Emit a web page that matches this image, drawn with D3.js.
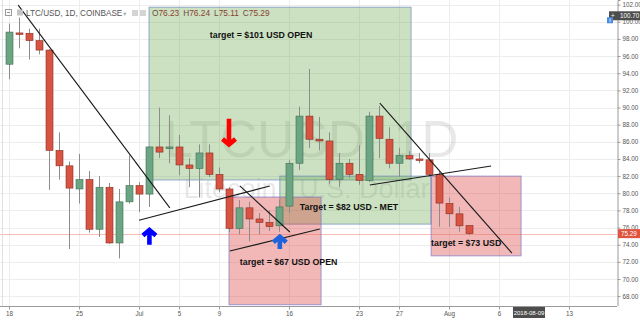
<!DOCTYPE html>
<html>
<head>
<meta charset="utf-8">
<script src="https://cdn.jsdelivr.net/npm/d3@7/dist/d3.min.js"></script>
<style>
  body { margin: 0; background: #fff; }
  #wrapper { width: 640px; height: 320px; overflow: hidden; }
  text { font-family: "Liberation Sans", Arial, sans-serif; }
</style>
</head>
<body>
<div id="wrapper"></div>
<script>
// daily candles LTC/USD
const dates = ["2018-06-18","2018-06-19","2018-06-20","2018-06-21","2018-06-22","2018-06-23","2018-06-24",
  "2018-06-25","2018-06-26","2018-06-27","2018-06-28","2018-06-29","2018-06-30","2018-07-01",
  "2018-07-02","2018-07-03","2018-07-04","2018-07-05","2018-07-06","2018-07-07","2018-07-08",
  "2018-07-09","2018-07-10","2018-07-11","2018-07-12","2018-07-13","2018-07-14","2018-07-15",
  "2018-07-16","2018-07-17","2018-07-18","2018-07-19","2018-07-20","2018-07-21","2018-07-22",
  "2018-07-23","2018-07-24","2018-07-25","2018-07-26","2018-07-27","2018-07-28","2018-07-29",
  "2018-07-30","2018-07-31","2018-08-01","2018-08-02","2018-08-03"];
const open = [95.05, 98.7, 98.66, 97.8, 96.7, 85.0, 83.2, 80.5, 81.6, 75.8, 80.7, 74.2, 79.0, 80.9,
  79.9, 85.4, 85.2, 85.4, 83.3, 82.9, 84.7, 82.2, 80.5, 75.9, 78.3, 77.0, 76.6, 76.2, 78.5, 83.5,
  89.0, 86.3, 86.1, 81.6, 83.5, 82.2, 81.5, 89.0, 86.3, 83.5, 84.4, 84.0, 83.9, 82.2, 78.8, 77.6, 76.23];
const high = [99.8, 100.5, 99.2, 99.2, 96.8, 87.1, 83.7, 84.6, 82.6, 82.0, 81.2, 80.5, 84.4, 81.3,
  85.5, 90.0, 89.1, 86.8, 84.1, 85.7, 85.7, 83.0, 80.7, 79.2, 79.0, 77.7, 78.0, 79.2, 83.85, 90.1,
  94.5, 88.9, 87.1, 84.7, 84.0, 85.6, 89.5, 90.2, 87.7, 85.3, 84.9, 84.7, 84.7, 82.6, 79.5, 78.4, 76.24];
const low = [93.3, 96.9, 95.6, 96.2, 80.4, 81.6, 73.5, 78.8, 75.4, 74.9, 74.1, 72.4, 78.8, 77.8,
  78.4, 84.1, 83.5, 82.1, 80.7, 79.5, 81.9, 80.1, 75.5, 75.2, 74.4, 75.2, 75.6, 75.5, 77.7, 82.7,
  85.3, 85.0, 81.1, 80.7, 81.8, 81.0, 81.3, 84.1, 82.9, 81.9, 83.9, 83.5, 81.9, 76.1, 76.1, 75.5, 75.11];
const close = [98.8, 98.6, 97.8, 96.7, 85.0, 83.2, 80.6, 81.6, 75.8, 80.7, 74.2, 79.0, 80.9, 79.9,
  85.4, 84.8, 85.4, 83.3, 82.9, 84.7, 82.2, 80.5, 75.9, 78.3, 77.0, 76.6, 76.1, 78.4, 83.5, 89.0,
  86.3, 86.1, 81.6, 83.5, 82.2, 81.5, 89.0, 86.4, 83.5, 84.4, 84.0, 83.9, 82.2, 78.85, 77.6, 76.2, 75.29];

// axis ticks
const tickDates = ["2018-06-18","2018-06-25","2018-07-01","2018-07-05","2018-07-09","2018-07-16",
  "2018-07-23","2018-07-27","2018-08-01","2018-08-06","2018-08-13"];
const tickLabels = ["18","25","Jul","5","9","16","23","27","Aug","6","13"];
const priceTicks = [68, 70, 72, 74, 76, 78, 80, 82, 84, 86, 88, 90, 92, 94, 96, 98, 100, 102];
const lastPrice = 75.29;
const crossPrice = 100.70;
const crossDate = "2018-08-09";

// drawings (time, price)
const zones = [
  {from: "2018-07-02T00:00Z", to: "2018-07-28T05:00Z", top: 101.7, bottom: 81.55, kind: "up"},
  {from: "2018-07-15T02:00Z", to: "2018-07-30T05:00Z", top: 82.0, bottom: 76.4, kind: "up"},
  {from: "2018-07-10T00:00Z", to: "2018-07-19T05:00Z", top: 79.56, bottom: 67.0, kind: "down"},
  {from: "2018-07-30T05:00Z", to: "2018-08-08T05:00Z", top: 82.0, bottom: 72.7, kind: "down"}
];
const trendLines = [
  ["2018-06-18T22:00Z", 101.95, "2018-07-04T02:00Z", 78.3],
  ["2018-07-01T00:00Z", 76.86, "2018-07-14T02:00Z", 80.85],
  ["2018-07-11T02:00Z", 80.85, "2018-07-16T02:00Z", 75.48],
  ["2018-07-10T02:00Z", 73.26, "2018-07-19T02:00Z", 75.83],
  ["2018-07-24T02:00Z", 80.97, "2018-08-05T05:00Z", 83.18],
  ["2018-07-25T02:00Z", 90.52, "2018-08-07T07:00Z", 73.03]
];
const arrows = [
  {date: "2018-07-10T00:00Z", from: 88.7, to: 85.5, kind: "red"},
  {date: "2018-07-02T01:00Z", from: 74.0, to: 75.9, kind: "blue"},
  {date: "2018-07-15T02:00Z", from: 73.5, to: 75.1, kind: "blue2"}
];
const notes = [
  {date: "2018-07-08T02:00Z", price: 98.1, text: "target = $101 USD OPEN"},
  {date: "2018-07-17T02:00Z", price: 78.1, text: "Target = $82 USD - MET"},
  {date: "2018-07-11T02:00Z", price: 71.6, text: "target = $67 USD OPEN"},
  {date: "2018-07-30T05:00Z", price: 73.85, text: "target = $73 USD"}
];

function buildChart() {
    const width = 640, height = 320;
    const plot = {left: 0, right: 617, top: 0, bottom: 306};
    const DAY = 86400000;
    const t0 = new Date(dates[0]).getTime();

    const svg = d3.select("#wrapper").append("svg")
        .attr("width", width)
        .attr("height", height);

    const x = d3.scaleUtc()
        .domain([new Date(t0 - 0.9 * DAY), new Date(t0 + 60.8 * DAY)])
        .range([plot.left, plot.right]);
    const y = d3.scaleLinear()
        .domain([66.85, 102.54])
        .range([plot.bottom, plot.top]);

    const colors = {
        up: "#6ba583", upLine: "#3f6f52", down: "#d75442", downLine: "#8a2e22", wick: "#8c8c8c",
        grid: "#ededed", axis: "#9a9a9a", label: "#555"
    };
    const zoneFill = {up: "rgba(106,170,80,0.35)", down: "rgba(215,40,40,0.33)"};
    const zoneStroke = {up: "rgba(110,140,190,0.7)", down: "rgba(120,120,200,0.7)"};
    const arrowColor = {red: "#ff0000", blue: "#0000ff", blue2: "#1f63dc"};

    svg.append("defs").append("clipPath").attr("id", "plotclip")
        .append("rect")
        .attr("x", plot.left).attr("y", plot.top)
        .attr("width", plot.right - plot.left).attr("height", plot.bottom - plot.top);

    //grid
    const grid = svg.append("g");
    grid.selectAll("line.h")
        .data(priceTicks)
        .enter().append("line")
        .attr("x1", plot.left).attr("x2", plot.right)
        .attr("y1", (d) => Math.round(y(d)) + 0.5).attr("y2", (d) => Math.round(y(d)) + 0.5)
        .attr("stroke", colors.grid);
    grid.selectAll("line.v")
        .data(tickDates)
        .enter().append("line")
        .attr("x1", (d) => Math.round(x(new Date(d))) + 0.5).attr("x2", (d) => Math.round(x(new Date(d))) + 0.5)
        .attr("y1", plot.top).attr("y2", plot.bottom)
        .attr("stroke", colors.grid);

    //watermark
    const mid = (plot.left + plot.right) / 2;
    svg.append("text")
        .attr("x", mid + 3).attr("y", 157)
        .attr("text-anchor", "middle")
        .attr("font-size", 51)
        .attr("fill", "rgba(110,110,110,0.16)")
        .text("LTCUSD, 1D");
    svg.append("text")
        .attr("x", mid - 2).attr("y", 198)
        .attr("text-anchor", "middle")
        .attr("font-size", 27)
        .attr("fill", "rgba(110,110,110,0.16)")
        .text("Litecoin / U.S. Dollar");

    const inner = svg.append("g").attr("clip-path", "url(#plotclip)");

    //target boxes
    inner.selectAll("rect.zone")
        .data(zones)
        .enter().append("rect")
        .attr("x", (d) => x(new Date(d.from)))
        .attr("y", (d) => y(d.top))
        .attr("width", (d) => x(new Date(d.to)) - x(new Date(d.from)))
        .attr("height", (d) => y(d.bottom) - y(d.top))
        .attr("fill", (d) => zoneFill[d.kind])
        .attr("stroke", (d) => zoneStroke[d.kind])
        .attr("stroke-width", 1);

    //last price line
    inner.append("line")
        .attr("x1", plot.left).attr("x2", plot.right)
        .attr("y1", Math.round(y(lastPrice)) + 0.5).attr("y2", Math.round(y(lastPrice)) + 0.5)
        .attr("stroke", "rgba(235,110,90,0.45)");

    //candles
    const candles = dates.map((d, i) => ({date: new Date(d), o: open[i], h: high[i], l: low[i], c: close[i]}));
    const cg = inner.append("g");
    cg.selectAll("line")
        .data(candles)
        .enter().append("line")
        .attr("x1", (d) => Math.round(x(d.date)) + 0.5)
        .attr("x2", (d) => Math.round(x(d.date)) + 0.5)
        .attr("y1", (d) => y(d.h))
        .attr("y2", (d) => y(d.l))
        .attr("stroke", colors.wick);
    cg.selectAll("rect")
        .data(candles)
        .enter().append("rect")
        .attr("x", (d) => Math.round(x(d.date)) - 3)
        .attr("y", (d) => y(Math.max(d.o, d.c)))
        .attr("width", 7)
        .attr("height", (d) => Math.max(1.5, Math.abs(y(d.o) - y(d.c))))
        .attr("fill", (d) => d.c >= d.o ? colors.up : colors.down)
        .attr("stroke", (d) => d.c >= d.o ? colors.upLine : colors.downLine)
        .attr("stroke-width", 0.6);

    //trend lines
    inner.selectAll("line.trend")
        .data(trendLines)
        .enter().append("line")
        .attr("x1", (d) => x(new Date(d[0]))).attr("y1", (d) => y(d[1]))
        .attr("x2", (d) => x(new Date(d[2]))).attr("y2", (d) => y(d[3]))
        .attr("stroke", "#1a1a1a")
        .attr("stroke-width", 1.1);

    //arrows
    inner.selectAll("path.arrow")
        .data(arrows)
        .enter().append("path")
        .attr("d", (d) => {
            const ax = x(new Date(d.date));
            const y1 = y(d.from), y2 = y(d.to);
            const dir = y2 < y1 ? 1 : -1;
            return `M${ax},${y1}L${ax},${y2 + dir * 2}M${ax - 6.5},${y2 + dir * 7}L${ax},${y2 + dir * 1.5}L${ax + 6.5},${y2 + dir * 7}`;
        })
        .attr("fill", "none")
        .attr("stroke", (d) => arrowColor[d.kind])
        .attr("stroke-width", 4.6)
        .attr("stroke-linejoin", "miter");

    //notes
    inner.selectAll("text.note")
        .data(notes)
        .enter().append("text")
        .attr("x", (d) => x(new Date(d.date)))
        .attr("y", (d) => y(d.price))
        .attr("font-size", 8.8)
        .attr("font-weight", "bold")
        .attr("fill", "#111")
        .text((d) => d.text);

    //frame
    svg.append("line")
        .attr("x1", 2.5).attr("x2", 2.5).attr("y1", 0).attr("y2", plot.bottom)
        .attr("stroke", "#e0e0e0");

    //price axis
    const yAxis = svg.append("g")
        .attr("transform", `translate(${plot.right + 0.5},0)`)
        .call(d3.axisRight(y).tickValues(priceTicks).tickFormat(d3.format(".2f")).tickSize(3).tickPadding(2));
    yAxis.select(".domain").attr("stroke", colors.axis);
    yAxis.selectAll(".tick line").attr("stroke", colors.axis);
    yAxis.selectAll(".tick text").attr("font-size", 6.3).attr("fill", colors.label).attr("font-family", "Liberation Sans, Arial");

    //time axis
    svg.append("rect")
        .attr("x", 0).attr("y", plot.bottom).attr("width", width).attr("height", height - plot.bottom)
        .attr("fill", "#fff");
    const xAxis = svg.append("g")
        .attr("transform", `translate(0,${plot.bottom + 0.5})`)
        .call(d3.axisBottom(x).tickValues(tickDates.map((d) => new Date(d)))
            .tickFormat((d, i) => tickLabels[i]).tickSize(3).tickPadding(2));
    xAxis.select(".domain").attr("stroke", colors.axis).attr("d", `M0,0H${plot.right}`);
    xAxis.selectAll(".tick line").attr("stroke", colors.axis);
    xAxis.selectAll(".tick text").attr("font-size", 6.3).attr("fill", colors.label).attr("font-family", "Liberation Sans, Arial");

    //cursor labels
    const cx = x(new Date(crossDate));
    svg.append("rect")
        .attr("x", cx - 16).attr("y", plot.bottom + 1).attr("width", 32).attr("height", 11)
        .attr("fill", "#4d4d4d");
    svg.append("text")
        .attr("x", cx).attr("y", plot.bottom + 9)
        .attr("text-anchor", "middle").attr("font-size", 6).attr("fill", "#fff")
        .text(crossDate);

    const cy = y(crossPrice);
    svg.append("rect")
        .attr("x", plot.right - 8).attr("y", cy - 4.5).attr("width", width - plot.right + 8).attr("height", 9)
        .attr("fill", "#4d4d4d");
    svg.append("text")
        .attr("x", plot.right - 6).attr("y", cy + 2.3)
        .attr("font-size", 6.3).attr("fill", "#fff")
        .text("+");
    svg.append("text")
        .attr("x", plot.right + 3).attr("y", cy + 2.3)
        .attr("font-size", 6.3).attr("fill", "#fff")
        .text(d3.format(".2f")(crossPrice));
    svg.append("rect")
        .attr("x", plot.right - 10).attr("y", cy + 1.5).attr("width", 6).attr("height", 6)
        .attr("fill", "#4a8be0");
    svg.append("text")
        .attr("x", plot.right - 7).attr("y", cy + 6.5)
        .attr("text-anchor", "middle").attr("font-size", 5).attr("font-weight", "bold").attr("fill", "#fff")
        .text("i");

    const ly = y(lastPrice);
    svg.append("rect")
        .attr("x", plot.right + 1).attr("y", ly - 4.5).attr("width", width - plot.right - 1).attr("height", 9)
        .attr("fill", "#e0533f");
    svg.append("text")
        .attr("x", plot.right + 4).attr("y", ly + 2.3)
        .attr("font-size", 6.3).attr("fill", "#fff")
        .text(d3.format(".2f")(lastPrice));

    //header
    const head = svg.append("g");
    head.append("rect").attr("x", 5.5).attr("y", 9.5).attr("width", 6).attr("height", 6)
        .attr("fill", "none").attr("stroke", "#999");
    head.append("line").attr("x1", 7).attr("x2", 10).attr("y1", 12.5).attr("y2", 12.5).attr("stroke", "#999");
    head.append("rect").attr("x", 17).attr("y", 9.5).attr("width", 6).attr("height", 6).attr("fill", "#c4c4c4");
    head.append("text").attr("x", 26).attr("y", 16)
        .attr("font-size", 8.2).attr("fill", "#555")
        .text("LTC/USD, 1D, COINBASE");
    head.append("text").attr("x", 122).attr("y", 15.5)
        .attr("font-size", 5.5).attr("fill", "#aaa").text("▼");
    head.append("rect").attr("x", 132).attr("y", 10).attr("width", 6).attr("height", 6).attr("fill", "#d4d4d4");
    head.append("rect").attr("x", 140).attr("y", 10).attr("width", 6).attr("height", 6).attr("fill", "#d4d4d4");
    const ohlc = [["O", open[open.length - 1]], ["H", high[high.length - 1]],
        ["L", low[low.length - 1]], ["C", close[close.length - 1]]];
    const ohlcText = head.append("text").attr("x", 152).attr("y", 16)
        .attr("font-size", 8.3).attr("fill", "#8b3e30");
    ohlc.forEach((p, i) => {
        ohlcText.append("tspan").attr("dx", i == 0 ? 0 : 4).attr("fill", "#6d4a40").text(p[0]);
        ohlcText.append("tspan").text(d3.format(".2f")(p[1]));
    });
}

buildChart()
</script>
</body>
</html>
